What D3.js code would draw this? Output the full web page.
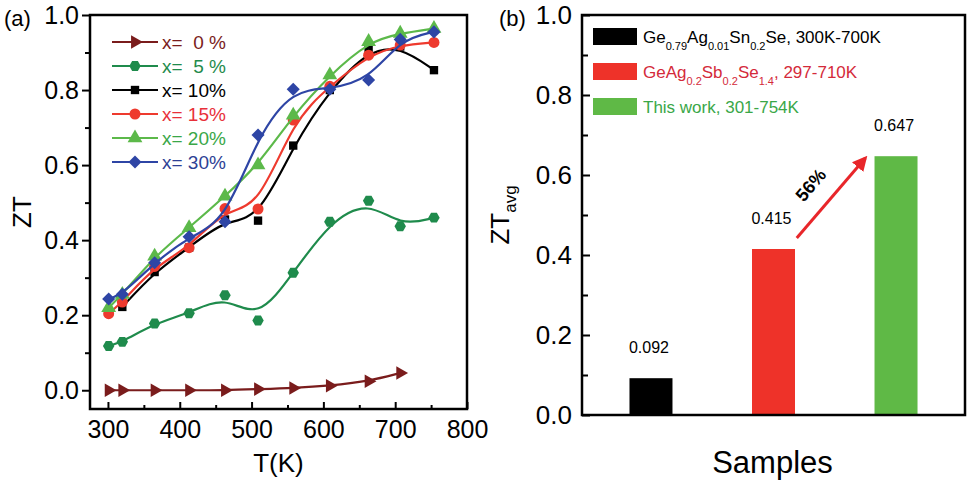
<!DOCTYPE html>
<html>
<head>
<meta charset="utf-8">
<script src="https://cdn.jsdelivr.net/npm/d3@7"></script>
<style>
  body { margin: 0; background: #fff; }
  svg { display: block; font-family: "Liberation Sans", Arial, sans-serif; }
</style>
</head>
<body>
<svg id="chart" width="970" height="484"></svg>
<script>
// panel (a): ZT vs T
const temps = [301, 320, 365, 413, 463, 509, 558, 609, 663, 707, 754];
const zt0 = [0.0, 0.0, 0.0, 0.0, 0.0, 0.003, 0.006, 0.012, 0.024, 0.046];
const zt5 = [0.118, 0.129, 0.178, 0.205, 0.253, 0.186, 0.313, 0.449, 0.505, 0.437, 0.46];
const zt10 = [null, 0.222, 0.315, 0.38, 0.455, 0.452, 0.652, 0.80, 0.907, 0.916, 0.853];
const zt15 = [0.204, 0.235, 0.33, 0.38, 0.484, 0.483, 0.72, 0.81, 0.893, 0.92, 0.927];
const zt20 = [0.22, 0.255, 0.357, 0.433, 0.517, 0.60, 0.733, 0.84, 0.929, 0.951, 0.964];
const zt30 = [0.243, 0.256, 0.34, 0.409, 0.449, 0.68, 0.802, 0.802, 0.827, 0.935, 0.955];
const seriesNames = ["x=  0 %", "x=  5 %", "x= 10%", "x= 15%", "x= 20%", "x= 30%"];
const seriesColors = ["#7a1c1c", "#1f8b4c", "#000000", "#ee3a2e", "#5cb94a", "#2e45a5"];
const textColors = ["#7a1c1c", "#1f8b4c", "#000000", "#e8303a", "#3aa748", "#2e3f95"];
const xTicksA = [300, 400, 500, 600, 700, 800];
const yTicksA = [0.0, 0.2, 0.4, 0.6, 0.8, 1.0];

// panel (b): average ZT
const samples = ["Ge0.79Ag0.01Sn0.2Se", "GeAg0.2Sb0.2Se1.4", "This work"];
const ztAvg = [0.092, 0.415, 0.647];
const barColors = ["#000000", "#ee3229", "#5fb946"];
const yTicksB = [0.0, 0.2, 0.4, 0.6, 0.8, 1.0];

const svg = d3.select("#chart");

// hexagon marker for the 5% series
const symbolHex = {
  draw(ctx, size) {
    const r = Math.sqrt(size / 2.598);
    for (let i = 0; i < 6; i++) {
      const a = Math.PI / 3 * i;
      const px = r * Math.cos(a), py = r * Math.sin(a);
      if (i === 0) ctx.moveTo(px, py); else ctx.lineTo(px, py);
    }
    ctx.closePath();
  }
};
const markers = [
  { type: d3.symbolTriangle, size: 80, rot: 90 },
  { type: symbolHex, size: 85, rot: 0 },
  { type: d3.symbolSquare, size: 70, rot: 0 },
  { type: d3.symbolCircle, size: 95, rot: 0 },
  { type: d3.symbolTriangle, size: 95, rot: 0 },
  { type: d3.symbolSquare, size: 85, rot: 45 },
];

// ---------- panel (a) ----------
const A = { left: 90, right: 467, top: 15, bottom: 409 };
const xA = d3.scaleLinear().domain([275, 800]).range([A.left, A.right]);
const yA = d3.scaleLinear().domain([-0.05, 1.0]).range([A.bottom, A.top]);

const gA = svg.append("g");

// minor ticks
gA.append("g")
  .attr("transform", `translate(0,${A.bottom})`)
  .call(d3.axisBottom(xA).tickValues([350, 450, 550, 650, 750]).tickSize(-4).tickFormat(""))
  .call((g) => g.select(".domain").remove())
  .selectAll("line").attr("stroke-width", 2);
gA.append("g")
  .attr("transform", `translate(${A.left},0)`)
  .call(d3.axisLeft(yA).tickValues([0.1, 0.3, 0.5, 0.7, 0.9]).tickSize(5).tickFormat(""))
  .call((g) => g.select(".domain").remove())
  .selectAll("line").attr("stroke-width", 2);

// major ticks
const xAxisA = gA.append("g")
  .attr("transform", `translate(0,${A.bottom})`)
  .call(d3.axisBottom(xA).tickValues(xTicksA).tickSize(-7).tickPadding(11).tickFormat(d3.format("d")));
const yAxisA = gA.append("g")
  .attr("transform", `translate(${A.left},0)`)
  .call(d3.axisLeft(yA).tickValues(yTicksA).tickSize(8).tickPadding(3).tickFormat(d3.format(".1f")));
[xAxisA, yAxisA].forEach((ax) => {
  ax.select(".domain").remove();
  ax.selectAll("line").attr("stroke-width", 2);
  ax.selectAll("text").attr("font-size", 25).attr("fill", "#000").attr("font-family", "Liberation Sans, Arial, sans-serif");
});

const allSeries = [zt0, zt5, zt10, zt15, zt20, zt30];
const line = d3.line()
  .defined((d) => d.v != null)
  .x((d) => xA(d.t))
  .y((d) => yA(d.v))
  .curve(d3.curveBasis);

allSeries.forEach((vals, i) => {
  const pts = vals.map((v, j) => ({ t: temps[j], v })).filter((d) => d.v != null);
  gA.append("path")
    .datum(pts)
    .attr("fill", "none")
    .attr("stroke", seriesColors[i])
    .attr("stroke-width", 2.2)
    .attr("d", line);
  gA.selectAll(null)
    .data(pts)
    .enter()
    .append("path")
    .attr("d", d3.symbol().type(markers[i].type).size(markers[i].size))
    .attr("transform", (d) => `translate(${xA(d.t)},${yA(d.v)}) rotate(${markers[i].rot})`)
    .attr("fill", seriesColors[i]);
});

// legend (a)
const legA = gA.append("g");
seriesNames.forEach((name, i) => {
  const y = 42 + i * 24;
  legA.append("line")
    .attr("x1", 112).attr("x2", 158).attr("y1", y).attr("y2", y)
    .attr("stroke", seriesColors[i]).attr("stroke-width", 2.2);
  legA.append("path")
    .attr("d", d3.symbol().type(markers[i].type).size(markers[i].size))
    .attr("transform", `translate(135,${y}) rotate(${markers[i].rot})`)
    .attr("fill", seriesColors[i]);
  legA.append("text")
    .attr("x", 162).attr("y", y + 7)
    .attr("font-size", 19)
    .attr("fill", textColors[i])
    .style("white-space", "pre")
    .attr("xml:space", "preserve")
    .text(name);
});

gA.append("rect")
  .attr("x", A.left).attr("y", A.top)
  .attr("width", A.right - A.left).attr("height", A.bottom - A.top)
  .attr("fill", "none").attr("stroke", "#000").attr("stroke-width", 2.5);

gA.append("text").attr("x", 4).attr("y", 26).attr("font-size", 22).text("(a)");
gA.append("text")
  .attr("transform", `translate(31,${(A.top + A.bottom) / 2}) rotate(-90)`)
  .attr("text-anchor", "middle").attr("font-size", 26).text("ZT");
gA.append("text")
  .attr("x", (A.left + A.right) / 2).attr("y", 472)
  .attr("text-anchor", "middle").attr("font-size", 26).text("T(K)");

// ---------- panel (b) ----------
const B = { left: 582, right: 965, top: 15, bottom: 415 };
const xB = d3.scaleLinear().domain([0.437, 3.563]).range([B.left, B.right]);
const yB = d3.scaleLinear().domain([0, 1]).range([B.bottom, B.top]);
const barW = 43;

const gB = svg.append("g");

gB.append("g")
  .attr("transform", `translate(${B.left},0)`)
  .call(d3.axisLeft(yB).tickValues([0.1, 0.3, 0.5, 0.7, 0.9]).tickSize(-6).tickFormat(""))
  .call((g) => g.select(".domain").remove())
  .selectAll("line").attr("stroke-width", 2);
const yAxisB = gB.append("g")
  .attr("transform", `translate(${B.left},0)`)
  .call(d3.axisLeft(yB).tickValues(yTicksB).tickSize(-8).tickPadding(10).tickFormat(d3.format(".1f")));
yAxisB.select(".domain").remove();
yAxisB.selectAll("line").attr("stroke-width", 2);
yAxisB.selectAll("text").attr("font-size", 26).attr("fill", "#000").attr("font-family", "Liberation Sans, Arial, sans-serif");

gB.selectAll(".bar")
  .data(ztAvg)
  .enter()
  .append("rect")
  .attr("class", "bar")
  .attr("x", (d, i) => xB(i + 1) - barW / 2)
  .attr("y", (d) => yB(d))
  .attr("width", barW)
  .attr("height", (d) => yB(0) - yB(d))
  .attr("fill", (d, i) => barColors[i]);

gB.selectAll(".val")
  .data(ztAvg)
  .enter()
  .append("text")
  .attr("class", "val")
  .attr("x", (d, i) => xB(i + 1) - 2)
  .attr("y", (d) => yB(d) - 25)
  .attr("text-anchor", "middle")
  .attr("font-size", 16)
  .text((d) => d3.format(".3f")(d));

// arrow from red bar to green bar
const arrowFrom = [2.19, 0.4425];
const arrowTo = [2.75, 0.6425];
const defs = svg.append("defs");
defs.append("marker")
  .attr("id", "arrowhead")
  .attr("viewBox", "0 0 10 10")
  .attr("refX", 8).attr("refY", 5)
  .attr("markerWidth", 5).attr("markerHeight", 5)
  .attr("orient", "auto")
  .append("path").attr("d", "M0,0 L10,5 L0,10 z").attr("fill", "#e8262a");
gB.append("line")
  .attr("x1", xB(arrowFrom[0])).attr("y1", yB(arrowFrom[1]))
  .attr("x2", xB(arrowTo[0])).attr("y2", yB(arrowTo[1]))
  .attr("stroke", "#e8262a").attr("stroke-width", 3)
  .attr("marker-end", "url(#arrowhead)");
const ang = Math.atan2(yB(arrowTo[1]) - yB(arrowFrom[1]), xB(arrowTo[0]) - xB(arrowFrom[0])) * 180 / Math.PI;
gB.append("text")
  .attr("transform", `translate(${xB(2.35) - 1},${yB(0.565)}) rotate(${ang})`)
  .attr("text-anchor", "middle")
  .attr("font-size", 18).attr("font-weight", "bold")
  .text("56%");

// legend (b)
const legItems = [
  { parts: [["Ge", 0], ["0.79", 1], ["Ag", 0], ["0.01", 1], ["Sn", 0], ["0.2", 1], ["Se, 300K-700K", 0]], color: "#000000" },
  { parts: [["GeAg", 0], ["0.2", 1], ["Sb", 0], ["0.2", 1], ["Se", 0], ["1.4", 1], [", 297-710K", 0]], color: "#d42a3a" },
  { parts: [["This work, 301-754K", 0]], color: "#3aa748" },
];
legItems.forEach((item, i) => {
  const y = 36 + i * 35;
  gB.append("rect")
    .attr("x", 593).attr("y", y - 8).attr("width", 44).attr("height", 17)
    .attr("fill", barColors[i]);
  const t = gB.append("text")
    .attr("x", 643).attr("y", y + 7)
    .attr("font-size", 17).attr("fill", item.color);
  let prevSub = false;
  item.parts.forEach(([s, sub]) => {
    t.append("tspan")
      .attr("dy", sub && !prevSub ? 7 : (!sub && prevSub ? -7 : 0))
      .attr("font-size", sub ? 11 : 17)
      .text(s);
    prevSub = !!sub;
  });
});

gB.append("rect")
  .attr("x", B.left).attr("y", B.top)
  .attr("width", B.right - B.left).attr("height", B.bottom - B.top)
  .attr("fill", "none").attr("stroke", "#000").attr("stroke-width", 2.5);

gB.append("text").attr("x", 499).attr("y", 26).attr("font-size", 22).text("(b)");
const yLabB = gB.append("text")
  .attr("transform", `translate(509,215) rotate(-90)`)
  .attr("text-anchor", "middle").attr("font-size", 26);
yLabB.append("tspan").text("ZT");
yLabB.append("tspan").attr("dy", 7).attr("font-size", 17).text("avg");
gB.append("text")
  .attr("x", (B.left + B.right) / 2 - 1).attr("y", 473)
  .attr("text-anchor", "middle").attr("font-size", 31).text("Samples");
</script>
</body>
</html>
